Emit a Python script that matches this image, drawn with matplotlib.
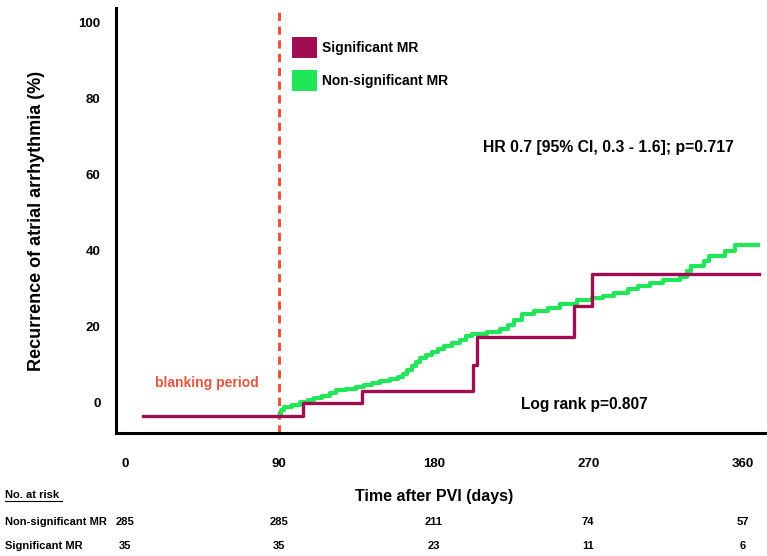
import matplotlib
matplotlib.use("Agg")
import matplotlib.pyplot as plt
from matplotlib.patches import Patch
from matplotlib.transforms import blended_transform_factory

plt.rcParams['font.family'] = ['Liberation Sans', 'DejaVu Sans']
plt.rcParams['font.weight'] = 'bold'

# Kaplan-Meier style step curves (days after PVI, recurrence %)
sig_days = [10.5, 103.8, 138.0, 203.0, 205.0, 262.0, 272.0, 369.5]
sig_pct = [-3.4, 0.0, 3.2, 10.0, 17.4, 25.5, 33.9, 33.9]

nonsig_days = [90.0, 90.9, 92.7, 97.3, 102.0, 106.7, 110.2, 114.8, 119.5, 123.0,
               128.8, 134.6, 139.3, 144.0, 148.6, 154.5, 159.1, 162.0, 164.4, 167.3,
               169.6, 172.0, 175.4, 178.9, 182.4, 185.9, 190.6, 195.3, 198.8, 202.3,
               211.0, 218.6, 223.2, 226.7, 231.4, 238.4, 246.6, 253.6, 263.5, 272.2,
               278.6, 285.0, 293.2, 299.0, 306.0, 313.6, 323.5, 327.6, 329.9, 337.5,
               340.4, 349.7, 355.6, 369.0]
nonsig_pct = [-3.4, -1.8, -1.1, -0.5, 0.3, 0.8, 1.3, 1.8, 2.6, 3.4,
              3.7, 4.2, 4.7, 5.3, 5.8, 6.3, 6.8, 7.6, 8.7, 9.7,
              10.8, 11.8, 12.6, 13.4, 14.2, 15.0, 15.8, 16.6, 17.6, 18.2,
              18.7, 19.5, 20.5, 21.8, 23.4, 24.2, 25.0, 26.1, 27.1, 27.6,
              28.2, 28.9, 30.0, 30.8, 31.6, 32.4, 33.2, 34.7, 36.1, 37.4,
              38.7, 40.0, 41.6, 41.6]

x_ticks = [0, 90, 180, 270, 360]
y_ticks = [0, 20, 40, 60, 80, 100]

risk_groups = ['Non-significant MR', 'Significant MR']
risk_nonsig = [285, 285, 211, 74, 57]
risk_sig = [35, 35, 23, 11, 6]

maroon = '#a00d52'
green = '#22e65a'
orange = '#e8553f'

fig = plt.figure(figsize=(7.67, 5.56), dpi=100)
ax = fig.add_axes([0.1512, 0.2212, 0.8488, 0.7644])

ax.step(sig_days, sig_pct, where='post', color=maroon, lw=2.4, zorder=3)
ax.step(nonsig_days, nonsig_pct, where='post', color=green, lw=3.0, zorder=2)
ax.axvline(90, color=orange, lw=2.2, linestyle=(0, (2.7, 1.8)), zorder=1)

ax.set_xlim(-5.2, 374.2)
ax.set_ylim(-7.9, 103.9)
ax.set_xticks(x_ticks)
ax.set_yticks(y_ticks)
ax.tick_params(length=0, labelsize=9.5)
ax.tick_params(axis='x', pad=18)
ax.tick_params(axis='y', pad=11)
for s in ['top', 'right']:
    ax.spines[s].set_visible(False)
for s in ['left', 'bottom']:
    ax.spines[s].set_linewidth(2.2)

ax.set_ylabel('Recurrence of atrial arrhythmia (%)', fontsize=13, fontweight='bold', labelpad=24)

ax.text(48, 5.3, 'blanking period', color=orange, fontsize=10, fontweight='bold',
        ha='center', va='center')
ax.text(282, 67.3, 'HR 0.7 [95% CI, 0.3 - 1.6]; p=0.717', fontsize=11.3,
        fontweight='bold', ha='center', va='center')
ax.text(268, -0.5, 'Log rank p=0.807', fontsize=11.2, fontweight='bold',
        ha='center', va='center')

handles = [Patch(facecolor=maroon, edgecolor='none'), Patch(facecolor=green, edgecolor='none')]
ax.legend(handles, ['Significant MR', 'Non-significant MR'], loc='upper left',
          bbox_to_anchor=(0.259, 0.948), frameon=False, borderpad=0,
          handlelength=1.8, handleheight=1.9, handletextpad=0.4, labelspacing=0.9,
          prop={'weight': 'bold', 'size': 10})

# x label and number-at-risk table under the axes
fig.text(434 / 767, 1 - 496 / 556, 'Time after PVI (days)', fontsize=11.5,
         fontweight='bold', ha='center', va='center')
fig.text(5 / 767, 1 - 495 / 556, 'No. at risk', fontsize=8, fontweight='bold',
         ha='left', va='center')
fig.add_artist(plt.Line2D([5 / 767, 62 / 767], [1 - 501 / 556, 1 - 501 / 556],
                          color='black', lw=0.8))
tr = blended_transform_factory(ax.transData, fig.transFigure)
row_y = [1 - 522 / 556, 1 - 546 / 556]
for name, counts, yy in zip(risk_groups, [risk_nonsig, risk_sig], row_y):
    fig.text(5 / 767, yy, name, fontsize=8, fontweight='bold', ha='left', va='center')
    for xv, c in zip(x_ticks, counts):
        ax.text(xv, yy, str(c), transform=tr, fontsize=8, fontweight='bold',
                ha='center', va='center', clip_on=False)

fig.savefig('out.png', dpi=100)
